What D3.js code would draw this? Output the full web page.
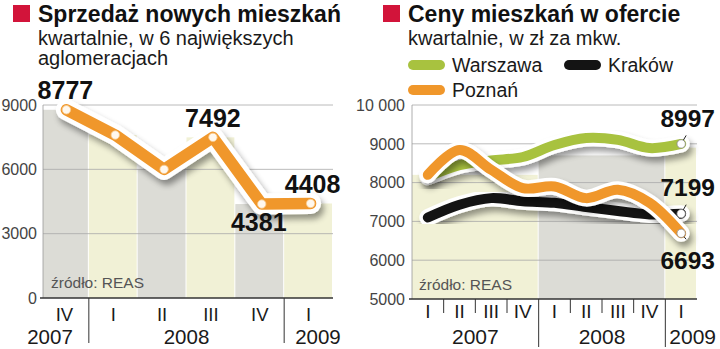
<!DOCTYPE html>
<html><head><meta charset="utf-8">
<script src="https://cdn.jsdelivr.net/npm/d3@7"></script>
<style>body{margin:0;background:#fff} svg{display:block}</style>
</head><body>
<svg id="c" width="720" height="349"></svg>
<script>
// ---------- data ----------
const salesQuarters = ["IV","I","II","III","IV","I"];
const salesYears = ["2007","2008","2008","2008","2008","2009"];
const salesValues = [8777, 7600, 6000, 7492, 4381, 4408];
const salesLabeled = [0, 3, 4, 5];
const salesTicks = [0, 3000, 6000, 9000];

const priceQuarters = ["I","II","III","IV","I","II","III","IV","I"];
const priceYears = ["2007","2007","2007","2007","2008","2008","2008","2008","2009"];
const warszawa = [8150, 8450, 8570, 8660, 8970, 9150, 9100, 8890, 8997];
const krakow   = [7100, 7430, 7600, 7520, 7480, 7370, 7270, 7180, 7199];
const poznan   = [8200, 8843, 8330, 7858, 7900, 7600, 7815, 7480, 6693];
const priceBandTops = [8200, 8700, 8900];
const priceTicks = [5000, 6000, 7000, 8000, 9000, 10000];
const seriesNames = ["Warszawa", "Kraków", "Poznań"];

// ---------- style ----------
const FONT = "'Liberation Sans', Arial, sans-serif";
const RED = "#d2143a", ORANGE = "#f0972b", GREEN = "#a8c23f", BLACK = "#141414";
const GREY = "#dcdcd6", YELLOW = "#f1f1d6";
const svg = d3.select("#c").style("font-family", FONT);

const defs = svg.append("defs");
const f = defs.append("filter").attr("id","sh").attr("x","-20%").attr("y","-30%").attr("width","140%").attr("height","160%");
f.append("feGaussianBlur").attr("in","SourceAlpha").attr("stdDeviation",3).attr("result","b");
f.append("feOffset").attr("in","b").attr("dx",3).attr("dy",5).attr("result","o");
f.append("feComponentTransfer").attr("in","o").attr("result","oo")
  .append("feFuncA").attr("type","linear").attr("slope",0.4);
const m = f.append("feMerge"); m.append("feMergeNode").attr("in","oo"); m.append("feMergeNode").attr("in","SourceGraphic");

function header(x, title, subs) {
  svg.append("rect").attr("x", x).attr("y", 5).attr("width", 17).attr("height", 17).attr("fill", RED);
  svg.append("text").attr("x", x + 25).attr("y", 22).attr("font-size", 23).attr("font-weight", "bold")
    .attr("fill", "#111").text(title);
  subs.forEach((s, i) => svg.append("text").attr("x", x + 25).attr("y", 45 + i * 20)
    .attr("font-size", 20).attr("fill", "#1a1a1a").text(s));
}
header(13, "Sprzedaż nowych mieszkań", ["kwartalnie, w 6 największych", "aglomeracjach"]);
header(383, "Ceny mieszkań w ofercie", ["kwartalnie, w zł za mkw."]);

// legend
const legendPos = [[408, 65], [564, 65], [408, 90]];
const legendColors = [GREEN, BLACK, ORANGE];
seriesNames.forEach((n, i) => {
  const [lx, ly] = legendPos[i];
  svg.append("rect").attr("x", lx).attr("y", ly - 5).attr("width", 37).attr("height", 10)
    .attr("rx", 5).attr("fill", legendColors[i]);
  svg.append("text").attr("x", lx + 44).attr("y", ly + 7).attr("font-size", 19.5).attr("fill", "#1a1a1a").text(n);
});

// ---------- left chart ----------
(function () {
  const L = 43, R = 333, T = 105, B = 298;
  const x = d3.scaleBand().domain(d3.range(salesValues.length)).range([40, R]).paddingInner(0);
  const y = d3.scaleLinear().domain([0, 9000]).range([B, T]);
  const g = svg.append("g");
  defs.append("clipPath").attr("id", "clipL").append("rect").attr("x", L).attr("y", 0).attr("width", R - L).attr("height", B);
  g.append("g").attr("clip-path", "url(#clipL)").selectAll("rect").data(salesValues).join("rect")
    .attr("x", (d, i) => x(i)).attr("width", x.bandwidth() - 1)
    .attr("y", d => y(d)).attr("height", d => B - y(d))
    .attr("fill", (d, i) => i % 2 ? YELLOW : GREY);
  g.selectAll("line.grid").data(salesTicks.filter(t => t > 0)).join("line")
    .attr("x1", L).attr("x2", R).attr("y1", d => y(d)).attr("y2", d => y(d))
    .attr("stroke", "#a8a8a8").attr("stroke-width", 0.8);
  g.append("line").attr("x1", L).attr("x2", L).attr("y1", T).attr("y2", B).attr("stroke", "#999").attr("stroke-width", 0.8);
  g.selectAll("text.yt").data(salesTicks).join("text")
    .attr("x", 37).attr("y", d => y(d)).attr("dy", "0.36em").attr("text-anchor", "end")
    .attr("font-size", 16).attr("fill", "#444").text(d => d);
  g.append("text").attr("x", 51).attr("y", 288).attr("font-size", 15.5).attr("fill", "#555").text("źródło: REAS");
  g.append("line").attr("x1", L - 3).attr("x2", R).attr("y1", B).attr("y2", B).attr("stroke", "#333").attr("stroke-width", 1.6);

  // year separators
  const seps = d3.range(1, salesYears.length).filter(i => salesYears[i] !== salesYears[i - 1]);
  g.selectAll("line.sep").data(seps).join("line")
    .attr("x1", i => x(i)).attr("x2", i => x(i)).attr("y1", B).attr("y2", 343)
    .attr("stroke", "#333").attr("stroke-width", 1);
  g.selectAll("text.q").data(salesQuarters).join("text")
    .attr("x", (d, i) => x(i) + x.bandwidth() / 2).attr("y", 321).attr("text-anchor", "middle")
    .attr("font-size", 18.5).attr("fill", "#1a1a1a").text(d => d);
  const yrs = Array.from(d3.group(salesYears.map((yv, i) => ({ yv, i })), d => d.yv), ([k, v]) => ({ k, a: v[0].i, b: v[v.length - 1].i }));
  yrs.forEach((o, j) => {
    let tx, anchor = "middle";
    if (j === 0) { tx = x(o.b + 1) - 16; anchor = "end"; }
    else if (j === yrs.length - 1) { tx = x(o.a) + 11; anchor = "start"; }
    else tx = (x(o.a) + x(o.b) + x.bandwidth()) / 2;
    g.append("text").attr("x", tx).attr("y", 344).attr("text-anchor", anchor)
      .attr("font-size", 20.5).attr("fill", "#1a1a1a").text(o.k);
  });

  // line
  const line = d3.line().x((d, i) => x(i) + x.bandwidth() / 2 + 2).y(d => y(d));
  g.append("path").datum(salesValues).attr("d", line).attr("fill", "none").attr("stroke", "#fff")
    .attr("stroke-width", 21).attr("stroke-linejoin", "round").attr("stroke-linecap", "round").attr("filter", "url(#sh)");
  g.append("path").datum(salesValues).attr("d", line).attr("fill", "none").attr("stroke", ORANGE)
    .attr("stroke-width", 11.5).attr("stroke-linejoin", "round").attr("stroke-linecap", "round");
  g.selectAll("circle").data(salesValues).join("circle")
    .attr("cx", (d, i) => x(i) + x.bandwidth() / 2 + 2).attr("cy", d => y(d)).attr("r", 4.2)
    .attr("fill", "#fff8ee").attr("stroke", "#f7c98a").attr("stroke-width", 0.8);
  const off = { 0: [-1, -11], 3: [0, -10], 4: [-3, 27], 5: [2, -10] };
  g.selectAll("text.val").data(salesLabeled).join("text")
    .attr("x", i => x(i) + x.bandwidth() / 2 + 2 + off[i][0]).attr("y", i => y(salesValues[i]) + off[i][1])
    .attr("text-anchor", "middle").attr("font-size", 25).attr("font-weight", "bold").attr("fill", "#111")
    .text(i => salesValues[i]);
})();

// ---------- right chart ----------
(function () {
  const L = 412, R = 697, T = 105, B = 299;
  const n = priceQuarters.length;
  const x = d3.scaleBand().domain(d3.range(n)).range([L, R]);
  const cx = i => x(i) + x.bandwidth() / 2;
  const y = d3.scaleLinear().domain([5000, 10000]).range([B, T]);
  const g = svg.append("g");
  const yrs = Array.from(d3.group(priceYears.map((yv, i) => ({ yv, i })), d => d.yv), ([k, v]) => ({ k, a: v[0].i, b: v[v.length - 1].i }));
  g.selectAll("rect.band").data(yrs).join("rect")
    .attr("x", o => x(o.a)).attr("width", o => x(o.b) + x.bandwidth() - x(o.a) - 1)
    .attr("y", (o, j) => y(priceBandTops[j])).attr("height", (o, j) => B - y(priceBandTops[j]))
    .attr("fill", (o, j) => j % 2 ? GREY : YELLOW);
  g.selectAll("line.grid").data(priceTicks.filter(t => t > 5000)).join("line")
    .attr("x1", L).attr("x2", R).attr("y1", d => y(d)).attr("y2", d => y(d))
    .attr("stroke", "#a8a8a8").attr("stroke-width", 0.8);
  g.append("line").attr("x1", L).attr("x2", L).attr("y1", T).attr("y2", B).attr("stroke", "#999").attr("stroke-width", 0.8);
  g.selectAll("text.yt").data(priceTicks).join("text")
    .attr("x", 405).attr("y", d => y(d)).attr("dy", "0.36em").attr("text-anchor", "end")
    .attr("font-size", 16).attr("fill", "#444").text(d => d >= 10000 ? d3.format(",")(d).replace(",", " ") : d);
  g.append("text").attr("x", 419).attr("y", 290).attr("font-size", 15.5).attr("fill", "#555").text("źródło: REAS");
  g.append("line").attr("x1", L - 3).attr("x2", R).attr("y1", B).attr("y2", B).attr("stroke", "#333").attr("stroke-width", 1.6);

  // ticks
  g.selectAll("line.tk").data(d3.range(1, n)).join("line")
    .attr("x1", i => x(i)).attr("x2", i => x(i)).attr("y1", B)
    .attr("y2", i => priceYears[i] !== priceYears[i - 1] ? 347 : 313)
    .attr("stroke", "#333").attr("stroke-width", 1);
  g.selectAll("text.q").data(priceQuarters).join("text")
    .attr("x", (d, i) => cx(i)).attr("y", 318).attr("text-anchor", "middle")
    .attr("font-size", 19).attr("fill", "#1a1a1a").text(d => d);
  yrs.forEach((o, j) => {
    let tx, anchor = "middle";
    if (j === yrs.length - 1) { tx = x(o.a) + 4; anchor = "start"; }
    else tx = (x(o.a) + x(o.b) + x.bandwidth()) / 2;
    g.append("text").attr("x", tx).attr("y", 344).attr("text-anchor", anchor)
      .attr("font-size", 21).attr("fill", "#1a1a1a").text(o.k);
  });

  const line = d3.line().curve(d3.curveCatmullRom.alpha(0.5)).x((d, i) => cx(i)).y(d => y(d));
  const series = [warszawa, krakow, poznan];
  const colors = [GREEN, BLACK, ORANGE];
  series.forEach((s, k) => {
    g.append("path").datum(s).attr("d", line).attr("fill", "none").attr("stroke", "#fff")
      .attr("stroke-width", 17).attr("stroke-linejoin", "round").attr("stroke-linecap", "round").attr("filter", "url(#sh)");
    g.append("path").datum(s).attr("d", line).attr("fill", "none").attr("stroke", colors[k])
      .attr("stroke-width", 10).attr("stroke-linejoin", "round").attr("stroke-linecap", "round");
  });
  // end markers and labels
  const last = n - 1;
  const labelDy = [[-17, -17], [-18, -18], [12, 36]]; // [leader end dy, text baseline dy]
  series.forEach((s, k) => {
    const px = cx(last), py = y(s[last]);
    const [ld, td] = labelDy[k];
    g.append("line").attr("x1", px).attr("y1", py).attr("x2", px + 5).attr("y2", py + ld * 0.5)
      .attr("stroke", "#222").attr("stroke-width", 1);
    g.append("circle").attr("cx", px).attr("cy", py).attr("r", 4.2)
      .attr("fill", "#fff").attr("stroke", "#888").attr("stroke-width", 0.8);
    g.append("text").attr("x", 715).attr("y", py + td).attr("text-anchor", "end")
      .attr("font-size", 24.5).attr("font-weight", "bold").attr("fill", "#111").text(s[last]);
  });
})();
</script>
</body></html>
